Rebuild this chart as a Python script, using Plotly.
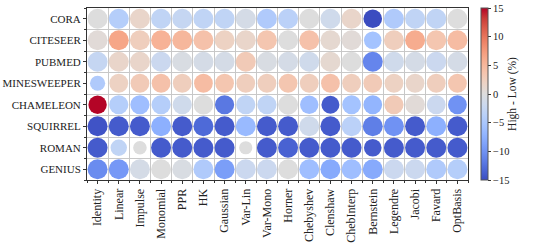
import plotly.graph_objects as go

datasets = ["CORA", "CITESEER", "PUBMED", "MINESWEEPER", "CHAMELEON", "SQUIRREL", "ROMAN", "GENIUS"]
bases = ["Identity", "Linear", "Impulse", "Monomial", "PPR", "HK", "Gaussian", "Var-Lin", "Var-Mono",
         "Horner", "Chebyshev", "Clenshaw", "ChebInterp", "Bernstein", "Legendre", "Jacobi", "Favard", "OptBasis"]

# High - Low (%) per dataset (rows) and basis (columns)
cora        = [0, -4, 1.5, -3, -2.5, -3, -3, -1, -4.5, -3.5, 0, -1.5, 1.5, -15, -4.5, -3, -3, 0]
citeseer    = [0.5, 6.5, 2.5, 5.5, 5, 4, 2, 1.5, 3.5, 0, 4, 1, 0.5, -5.5, 2.5, 6, 3.5, 4.5]
pubmed      = [-2.5, 1.5, 1.5, -2, -0.5, -1, -1, 3, -0.5, -1, -1.5, 1, 0, -11, -1.5, -1, -2, -1]
minesweeper = [-4.5, 2, 3, 4, 2.5, 4.5, 3.5, 2.5, 2.5, 3.5, 2.5, 4, 2.5, 3, 2, 1.5, 2.5, 3.5]
chameleon   = [15, -4, -6, -4, -1.5, 0, -12, -3, -3, 0, -6, -14, -5.5, -7, 3, 0.5, -2, -10]
squirrel    = [-14.5, -14, -14, -7.5, -14, -13, -14, -6.5, -14, -14, -1.5, -14, -3.5, -11.5, -10, -14, -7.5, -14]
roman       = [-14, -3, 0, -14, -14, -14, -14, 0, -14, -13.5, -14, -14, -14, -14, -14, -14, -14, -14]
genius      = [-10.5, -9.5, -1, 0, -0.5, -4.5, -9, -2, -2, 0, -6, -8, -6, -8, -2, -2, -4.5, -4]
values = [cora, citeseer, pubmed, minesweeper, chameleon, squirrel, roman, genius]

# relative circle size (secondary variable)
w_cora        = [1.0] * 13 + [0.93] + [1.0] * 4
w_citeseer    = [1.0] * 13 + [0.88] + [1.0] * 4
w_pubmed      = [1.0] * 18
w_minesweeper = [0.76] + [0.94] * 17
w_chameleon   = [0.92, 0.96, 0.96, 0.96, 0.96, 0.98, 0.96, 0.96, 0.96, 1.0, 0.92, 0.9, 0.94, 0.94, 0.96, 0.98, 0.94, 0.94]
w_squirrel    = [1.0] * 18
w_roman       = [1.0, 0.82, 0.68, 1.0, 1.0, 1.0, 1.0, 0.66, 1.0, 1.0, 1.0, 1.0, 1.0, 0.88, 1.0, 1.0, 1.0, 1.0]
w_genius      = [1.0] * 18
weights = [w_cora, w_citeseer, w_pubmed, w_minesweeper, w_chameleon, w_squirrel, w_roman, w_genius]

coolwarm = [
    [0.0, "rgb(59,76,192)"], [0.0625, "rgb(77,104,215)"], [0.125, "rgb(98,130,234)"],
    [0.1875, "rgb(119,154,247)"], [0.25, "rgb(141,176,254)"], [0.3125, "rgb(163,194,255)"],
    [0.375, "rgb(184,208,249)"], [0.4375, "rgb(204,217,238)"], [0.5, "rgb(221,221,221)"],
    [0.5625, "rgb(236,211,197)"], [0.625, "rgb(245,196,173)"], [0.6875, "rgb(247,177,148)"],
    [0.75, "rgb(244,154,123)"], [0.8125, "rgb(236,127,99)"], [0.875, "rgb(222,96,77)"],
    [0.9375, "rgb(203,62,56)"], [1.0, "rgb(180,4,38)"],
]

xs, ys, cs, ss = [], [], [], []
for r, (row, wrow) in enumerate(zip(values, weights)):
    for c, (v, w) in enumerate(zip(row, wrow)):
        xs.append(c)
        ys.append(r)
        cs.append(v)
        ss.append(20 * w)

FONT = "Liberation Serif"

fig = go.Figure(go.Scatter(
    x=xs, y=ys, mode="markers",
    marker=dict(
        size=ss, color=cs, colorscale=coolwarm, cmin=-15, cmax=15, opacity=1,
        line=dict(width=0),
        colorbar=dict(
            x=1.034, xanchor="left", xpad=0, y=0.5, yanchor="middle", ypad=0,
            len=1.0, lenmode="fraction", thickness=7,
            outlinecolor="#555", outlinewidth=1,
            tickvals=[-15, -10, -5, 0, 5, 10, 15],
            ticktext=["\u221215", "\u221210", "\u22125", "0", "5", "10", "15"],
            ticks="outside", ticklen=3, tickcolor="#333",
            tickfont=dict(family=FONT, size=10.5, color="#222"),
            title=dict(text="High - Low (%)", side="right", font=dict(family=FONT, size=11.5, color="#222")),
        ),
    ),
    hoverinfo="skip", showlegend=False,
))

n_c, n_r = len(bases), len(datasets)
fig.update_layout(
    width=533, height=246,
    margin=dict(l=87, r=65, t=8, b=66, autoexpand=False),
    paper_bgcolor="white", plot_bgcolor="white",
    font=dict(family=FONT, color="#222"),
    xaxis=dict(
        automargin=False,
        range=[-0.5, n_c - 0.5], tickmode="array", tickvals=list(range(n_c)), ticktext=bases,
        tickangle=-90, tickfont=dict(family=FONT, size=12, color="#222"),
        showgrid=False, zeroline=False, showline=True, mirror=True, linecolor="#333", linewidth=1,
        ticks="outside", ticklen=3, tickcolor="#333",
        minor=dict(tickmode="array", tickvals=[i - 0.5 for i in range(n_c + 1)], showgrid=True,
                   gridcolor="#c8c8c8", gridwidth=1, ticks="outside", ticklen=2, tickcolor="#333"),
    ),
    yaxis=dict(
        automargin=False,
        range=[n_r - 0.5, -0.5], tickmode="array", tickvals=list(range(n_r)), ticktext=datasets,
        tickfont=dict(family=FONT, size=11, color="#222"),
        showgrid=False, zeroline=False, showline=True, mirror=True, linecolor="#333", linewidth=1,
        ticks="outside", ticklen=3, tickcolor="#333",
        minor=dict(tickmode="array", tickvals=[i - 0.5 for i in range(n_r + 1)], showgrid=True,
                   gridcolor="#c8c8c8", gridwidth=1, ticks="outside", ticklen=2, tickcolor="#333"),
    ),
)

fig.write_html("out.html", config={"displayModeBar": False},
               post_script="document.body.style.margin='0';document.body.style.overflow='hidden';")
